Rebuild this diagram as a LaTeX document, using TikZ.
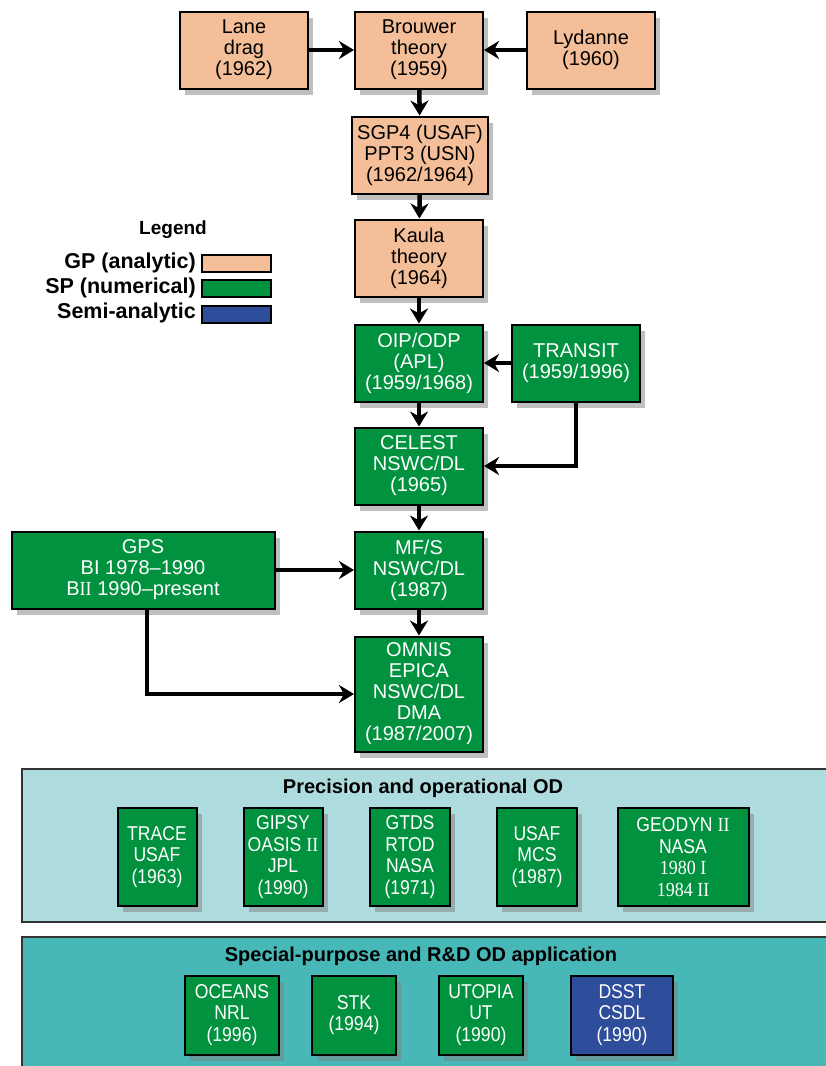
\documentclass[tikz,border=0pt]{standalone}
\usepackage{fontspec}
\setmainfont{Liberation Sans}
\newfontfamily\narrowsf[FakeStretch=0.88]{Liberation Sans}
\newfontfamily\romsf[FakeStretch=0.9]{Liberation Serif}
\usetikzlibrary{shadows,arrows.meta}
\definecolor{gpcol}{HTML}{F4BF98}
\definecolor{spcol}{HTML}{00923F}
\definecolor{sacol}{HTML}{2E4D9B}
\definecolor{precol}{HTML}{AEDCDE}
\definecolor{specol}{HTML}{47B7B7}
\tikzset{
  box/.style={draw=black,line width=2pt,align=center,inner sep=0pt,font=\fontsize{20}{21}\selectfont,
    drop shadow={opacity=0.5,shadow xshift=5pt,shadow yshift=-6pt}},
  gp/.style={box,fill=gpcol,minimum width=128pt,minimum height=77pt},
  sp/.style={box,fill=spcol,text=white,minimum width=128pt,minimum height=77pt},
  tool/.style={box,fill=spcol,text=white,minimum height=98pt,font=\narrowsf\fontsize{20}{21.5}\selectfont},
  legbox/.style={draw=black,line width=2pt,minimum width=69pt,minimum height=17pt,inner sep=0pt},
  leglabel/.style={anchor=east,inner sep=0pt,font=\bfseries\fontsize{21.5}{22}\selectfont},
  paneltitle/.style={inner sep=0pt,font=\bfseries\fontsize{20}{21}\selectfont},
  link/.style={line width=4.5pt,-{Stealth[length=15pt,width=18pt]}},
  panel/.style={draw=black!80,line width=1.5pt}
}
\begin{document}
\begin{tikzpicture}[x=1pt,y=-1pt]
\useasboundingbox[fill=white](0,0)rectangle(825,1066);
\node[gp](lane)at(244,50){Lane\\drag\\(1962)};
\node[gp](brouwer)at(419,50){Brouwer\\theory\\(1959)};
\node[gp](lydanne)at(591,50){Lydanne\\(1960)};
\node[gp,minimum width=136pt](sgp)at(420,155){SGP4 (USAF)\\PPT3 (USN)\\(1962/1964)};
\node[gp](kaula)at(419,258){Kaula\\theory\\(1964)};
\node[sp](oip)at(419,363){OIP/ODP\\(APL)\\(1959/1968)};
\node[sp](transit)at(576,363){TRANSIT\\(1959/1996)};
\node[sp](celest)at(419,466){CELEST\\NSWC/DL\\(1965)};
\node[sp](mfs)at(419,570){MF/S\\NSWC/DL\\(1987)};
\node[sp,minimum width=263pt](gps)at(143,570){GPS\\BI 1978--1990\\B{\romsf II} 1990--present};
\node[sp,minimum height=115pt](omnis)at(419,694){OMNIS\\EPICA\\NSWC/DL\\DMA\\(1987/2007)};
\draw[link](lane)--(brouwer);
\draw[link](lydanne)--(brouwer);
\draw[link](brouwer)--(sgp);
\draw[link](sgp)--(kaula);
\draw[link](kaula)--(oip);
\draw[link](transit)--(oip);
\draw[link](oip)--(celest);
\draw[link](transit.south)|-(celest.east);
\draw[link](celest)--(mfs);
\draw[link](gps)--(mfs);
\draw[link](mfs)--(omnis);
\draw[link]([xshift=4pt]gps.south)|-(omnis.west);
\node[font=\bfseries\fontsize{19}{20}\selectfont](legend)at(173,230){Legend};
\node[leglabel](gplab)at(196,263){GP (analytic)};
\node[leglabel](splab)at(196,288){SP (numerical)};
\node[leglabel](salab)at(196,313){Semi-analytic};
\node[legbox,fill=gpcol](gpkey)at(236,263){};
\node[legbox,fill=spcol](spkey)at(236,288){};
\node[legbox,fill=sacol](sakey)at(236,314){};
\draw[panel,fill=precol](22,769)rectangle(830,922);
\node[paneltitle](pretitle)at(423,788){Precision and operational OD};
\node[tool,minimum width=79pt](trace)at(157,857){TRACE\\USAF\\(1963)};
\node[tool,minimum width=79pt](gipsy)at(283,857){GIPSY\\OASIS {\romsf II}\\JPL\\(1990)};
\node[tool,minimum width=80pt](gtds)at(410,857){GTDS\\RTOD\\NASA\\(1971)};
\node[tool,minimum width=80pt](mcs)at(537,857){USAF\\MCS\\(1987)};
\node[tool,minimum width=131pt](geodyn)at(683,857){GEODYN {\romsf II}\\NASA\\{\romsf 1980 I}\\{\romsf 1984 II}};
\draw[panel,fill=specol](22,937)rectangle(830,1080);
\node[paneltitle](spetitle)at(421,956){Special-purpose and R\&D OD application};
\node[tool,minimum width=94pt,minimum height=79pt](oceans)at(232,1015){OCEANS\\NRL\\(1996)};
\node[tool,minimum width=84pt,minimum height=79pt](stk)at(354,1015){STK\\(1994)};
\node[tool,minimum width=84pt,minimum height=79pt](utopia)at(481,1015){UTOPIA\\UT\\(1990)};
\node[tool,fill=sacol,minimum width=102pt,minimum height=79pt](dsst)at(622,1015){DSST\\CSDL\\(1990)};
\end{tikzpicture}
\end{document}
